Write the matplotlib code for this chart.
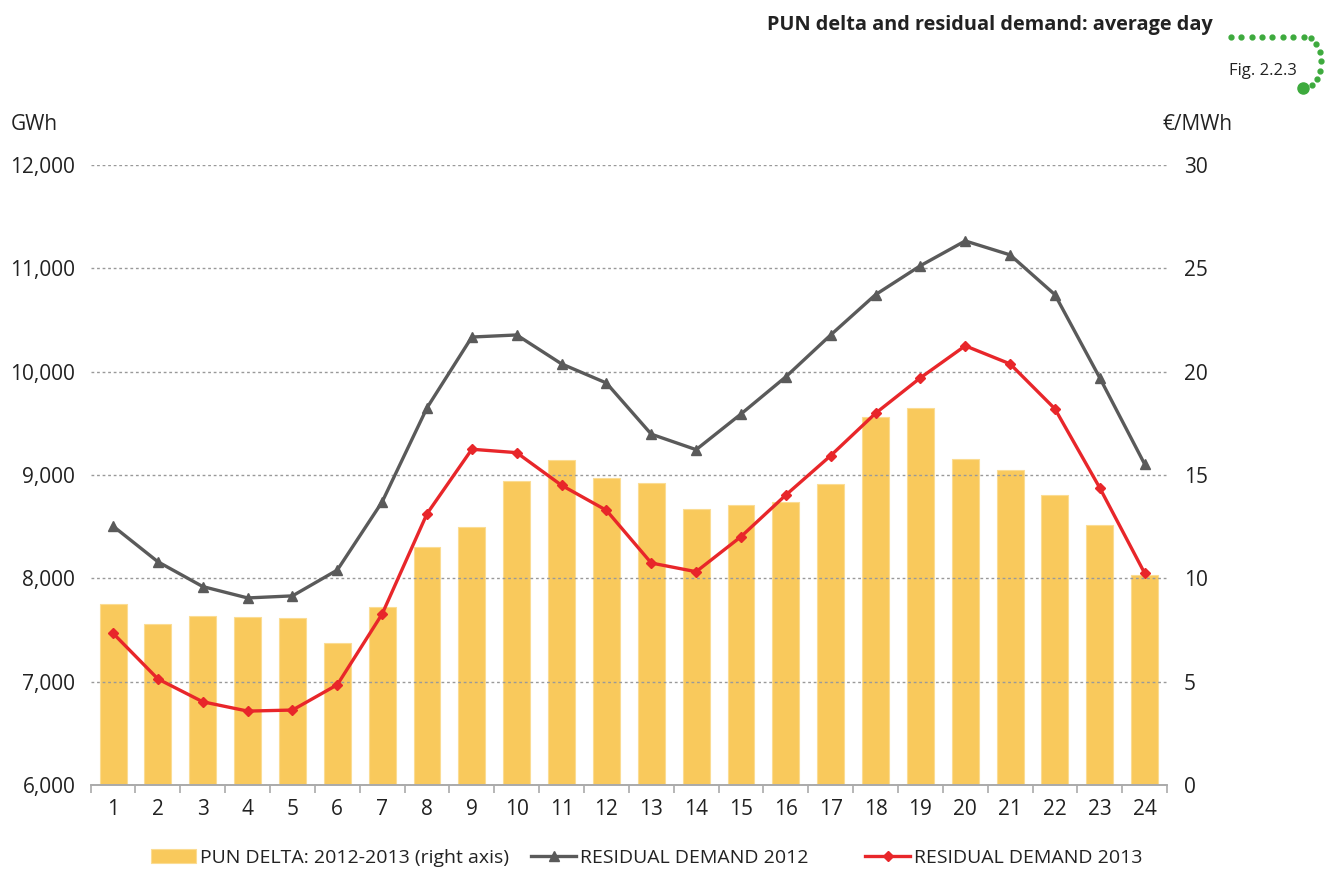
import matplotlib.pyplot as plt
import numpy as np

hours = list(range(1, 25))
pun_delta = [8.74, 7.79, 8.18, 8.14, 8.08, 6.85, 8.6, 11.5, 12.5, 14.7, 15.72, 14.85,
             14.6, 13.35, 13.56, 13.68, 14.55, 17.82, 18.26, 15.79, 15.24, 14.03, 12.58, 10.15]
res_2012 = [8505, 8160, 7920, 7810, 7830, 8080, 8740, 9650, 10335, 10355, 10075, 9890,
            9395, 9245, 9590, 9950, 10355, 10745, 11025, 11265, 11130, 10745, 9940, 9105]
res_2013 = [7468, 7026, 6805, 6715, 6725, 6970, 7655, 8625, 9249, 9216, 8900, 8658,
            8148, 8064, 8403, 8806, 9187, 9597, 9940, 10250, 10075, 9640, 8875, 8050]

FontFamily = 'Open Sans'
BarColor = '#F9C95C'
GrayColor = '#5A5A5A'
RedColor = '#E8262A'
TextColor = '#222222'

fig = plt.figure(figsize=(13.25, 8.72), dpi=100)
ax = fig.add_axes([0.0684, 0.0998, 0.8124, 0.711])
ax2 = ax.twinx()

x = np.array(hours)
bars = ax2.bar(x, pun_delta, width=0.6, color=BarColor, edgecolor='#FBDC93', linewidth=0.8, zorder=1)
ax2.set_ylim(0, 30)
ax2.set_yticks([0, 5, 10, 15, 20, 25, 30])
ax2.set_yticklabels(['0', '5', '10', '15', '20', '25', '30'], fontsize=15, fontname=FontFamily, color=TextColor)

# line axis in front of the bars
ax.set_zorder(ax2.get_zorder() + 1)
ax.patch.set_visible(False)

l12, = ax.plot(x, res_2012, color=GrayColor, linewidth=2.4, marker='^', markersize=7.5)
l13, = ax.plot(x, res_2013, color=RedColor, linewidth=2.4, marker='D', markersize=5)
ax.set_ylim(6000, 12000)
ax.set_xlim(0.5, 24.5)
yt = [6000, 7000, 8000, 9000, 10000, 11000, 12000]
ax.set_yticks(yt)
ax.set_yticklabels(['{:,}'.format(v) for v in yt], fontsize=15, fontname=FontFamily, color=TextColor)
ax.grid(axis='y', linestyle=(0, (2, 2)), color='#999999', linewidth=1)
ax.set_axisbelow(True)

ax.set_xticks(x)
ax.set_xticklabels([str(h) for h in hours], fontsize=15, fontname=FontFamily, color=TextColor)
ax.set_xticks(np.arange(0.5, 25, 1), minor=True)
ax.tick_params(axis='x', which='major', length=0, pad=10)
ax.tick_params(axis='x', which='minor', length=6, color='#AAAAAA', width=1.2)
ax.tick_params(axis='y', length=0, pad=11)
ax2.tick_params(axis='y', length=0, pad=12)

for a in (ax, ax2):
    for s in ['top', 'left', 'right']:
        a.spines[s].set_visible(False)
    a.spines['bottom'].set_color('#AAAAAA')
    a.spines['bottom'].set_linewidth(1.2)

fig.text(0.008, 0.857, 'GWh', fontsize=15, fontname=FontFamily, color=TextColor, va='center')
fig.text(0.877, 0.857, '€/MWh', fontsize=15, fontname=FontFamily, color=TextColor, va='center')

fig.text(0.915, 0.971, 'PUN delta and residual demand: average day', fontsize=14.3, fontweight='bold',
         fontname=FontFamily, color=TextColor, ha='right', va='center')
fig.text(0.979, 0.919, 'Fig. 2.2.3', fontsize=12, fontname=FontFamily, color=TextColor, ha='right', va='center')

# green dotted hook
hx = [0.929 + i * 0.0078 for i in range(7)]
hy = [0.958] * 7
cx, cy, ry, rx = 0.9845, 0.929, 0.029, 0.0125
ang = np.linspace(np.pi / 2, -np.pi / 2 + 0.45, 8)
hx += list(cx + rx * np.cos(ang))
hy += list(cy + ry * np.sin(ang))
fig.lines.append(plt.Line2D(hx, hy, transform=fig.transFigure, linestyle='none', marker='o',
                            markersize=3.5, color='#3DAA3D'))
fig.lines.append(plt.Line2D([0.9835], [0.899], transform=fig.transFigure, linestyle='none', marker='o',
                            markersize=8, color='#3DAA3D'))

legend_items = [(bars, 'PUN DELTA: 2012-2013 (right axis)', 0.114),
                (l12, 'RESIDUAL DEMAND 2012', 0.401),
                (l13, 'RESIDUAL DEMAND 2013', 0.653)]
for handle, label, xpos in legend_items:
    leg = fig.legend([handle], [label], loc='center left', bbox_to_anchor=(xpos, 0.016), frameon=False,
                     prop={'family': FontFamily, 'size': 14}, handlelength=2.3, handletextpad=0.2,
                     borderaxespad=0, borderpad=0)
    leg.get_texts()[0].set_color(TextColor)

plt.savefig('out.png', dpi=100)
